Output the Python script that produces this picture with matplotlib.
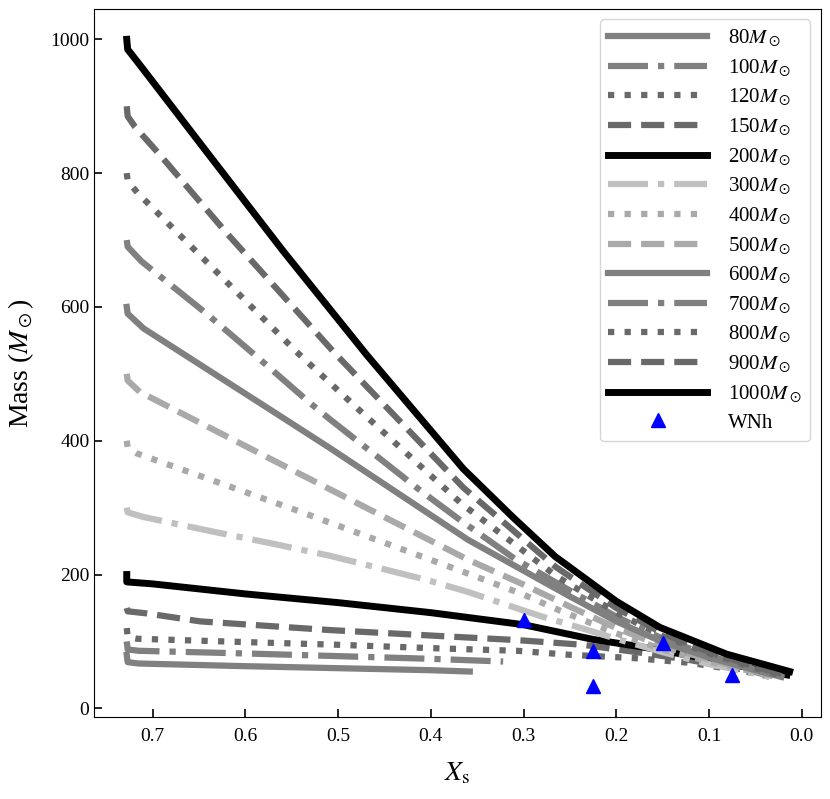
import matplotlib
matplotlib.use("Agg")
import matplotlib.pyplot as plt

plt.rcParams['font.family'] = ['Liberation Serif', 'DejaVu Serif']
plt.rcParams['mathtext.fontset'] = 'stix'

# ---- data ----
x80 = [0.728, 0.727, 0.715, 0.60, 0.50, 0.40, 0.358]
y80 = [80, 69, 67, 63, 60, 57, 55]
x100 = [0.728, 0.727, 0.715, 0.60, 0.50, 0.40, 0.322]
y100 = [100, 88, 86, 82, 78, 74, 70]
x120 = [0.728, 0.727, 0.717, 0.60, 0.50, 0.40, 0.307, 0.25, 0.18, 0.12, 0.06, 0.03]
y120 = [120, 107, 104, 99, 95, 90, 86, 80, 75, 68, 55, 46]
x150 = [0.728, 0.727, 0.707, 0.649, 0.509, 0.376, 0.307, 0.236, 0.178, 0.12, 0.06, 0.025]
y150 = [150, 145, 142, 130, 117, 107, 102, 95, 84, 72, 57, 47]
x200 = [0.728, 0.728, 0.70, 0.60, 0.50, 0.40, 0.30, 0.225, 0.155, 0.10, 0.045, 0.016]
y200 = [200, 189, 186, 171, 158, 143, 125, 103, 88, 73, 57, 50]
x300 = [0.728, 0.727, 0.710, 0.6275, 0.5736, 0.5088, 0.4045, 0.36, 0.282, 0.25, 0.20, 0.15, 0.10, 0.05, 0.035]
y300 = [300, 293, 286, 262, 247, 228, 192, 174, 138, 125, 104, 84, 66, 52, 47]
x400 = [0.728, 0.727, 0.717, 0.545, 0.365, 0.30, 0.264, 0.20, 0.15, 0.10, 0.05, 0.03]
y400 = [400, 390, 381, 296, 204, 170, 148, 112, 88, 70, 54, 46]
x500 = [0.728, 0.727, 0.714, 0.545, 0.3597, 0.30, 0.25, 0.20, 0.15, 0.10, 0.05, 0.025]
y500 = [500, 490, 473, 353, 222, 185, 152, 120, 93, 73, 55, 47]
x600 = [0.728, 0.727, 0.71, 0.566, 0.5088, 0.36, 0.2497, 0.20, 0.15, 0.10, 0.05, 0.022]
y600 = [600, 590, 568, 440, 389, 252, 167, 130, 99, 76, 57, 47]
x700 = [0.728, 0.727, 0.712, 0.642, 0.588, 0.53, 0.5088, 0.4117, 0.37, 0.31, 0.25, 0.20, 0.15, 0.10, 0.05, 0.02]
y700 = [700, 690, 668, 590, 526, 456, 432, 326, 283, 224, 176, 137, 104, 79, 58, 47]
x800 = [0.728, 0.727, 0.716, 0.638, 0.545, 0.4765, 0.367, 0.264, 0.20, 0.15, 0.10, 0.05, 0.02]
y800 = [800, 788, 770, 662, 533, 445, 306, 197, 143, 108, 82, 60, 48]
x900 = [0.728, 0.727, 0.719, 0.692, 0.620, 0.505, 0.365, 0.266, 0.20, 0.15, 0.10, 0.05, 0.017]
y900 = [900, 885, 869, 827, 710, 533, 330, 212, 150, 112, 84, 62, 50]
x1000 = [0.728, 0.727, 0.714, 0.638, 0.559, 0.469, 0.365, 0.311, 0.266, 0.20, 0.153, 0.081, 0.013]
y1000 = [1000, 985, 962, 825, 683, 528, 358, 285, 227, 160, 121, 81, 55]

wnh_x = [0.30, 0.225, 0.225, 0.15, 0.075]
wnh_y = [132, 85, 34, 97, 50]

masses = [80, 100, 120, 150, 200, 300, 400, 500, 600, 700, 800, 900, 1000]
xs = [x80, x100, x120, x150, x200, x300, x400, x500, x600, x700, x800, x900, x1000]
ys = [y80, y100, y120, y150, y200, y300, y400, y500, y600, y700, y800, y900, y1000]

styles = ['-', '-.', ':', '--', '-', '-.', ':', '--', '-', '-.', ':', '--', '-']
colors = ['#808080', '#808080', '#696969', '#696969', '#000000',
          '#c0c0c0', '#a9a9a9', '#a9a9a9',
          '#808080', '#808080', '#696969', '#696969', '#000000']

fig = plt.figure(figsize=(8.3, 7.99), dpi=100)
ax = fig.add_axes([0.1136, 0.1026, 0.8752, 0.8861])

for m, x, y, ls, c in zip(masses, xs, ys, styles, colors):
    lw = 5.0 if c == '#000000' else 4.5
    ax.plot(x, y, linestyle=ls, color=c, lw=lw, label=r'%d$M_\odot$' % m)

ax.plot(wnh_x, wnh_y, linestyle='none', marker='^', color='blue',
        markersize=9.5, label='WNh', zorder=5)

ax.set_xlim(0.763, -0.0205)
ax.set_ylim(-13, 1045.3)
ax.set_xticks([0.7, 0.6, 0.5, 0.4, 0.3, 0.2, 0.1, 0.0])
ax.set_yticks([0, 200, 400, 600, 800, 1000])
ax.tick_params(direction='in', length=6, width=1.2, labelsize=14)
ax.tick_params(axis='x', pad=8)

ax.set_xlabel(r'$X_{\rm s}$', fontsize=20, labelpad=11)
ax.set_ylabel(r'Mass ($M_\odot$)', fontsize=20, labelpad=10)

ax.legend(loc='upper right', fontsize=15, handlelength=4.75,
          labelspacing=0.4, handletextpad=1.0)

fig.savefig('out.png', dpi=100)
